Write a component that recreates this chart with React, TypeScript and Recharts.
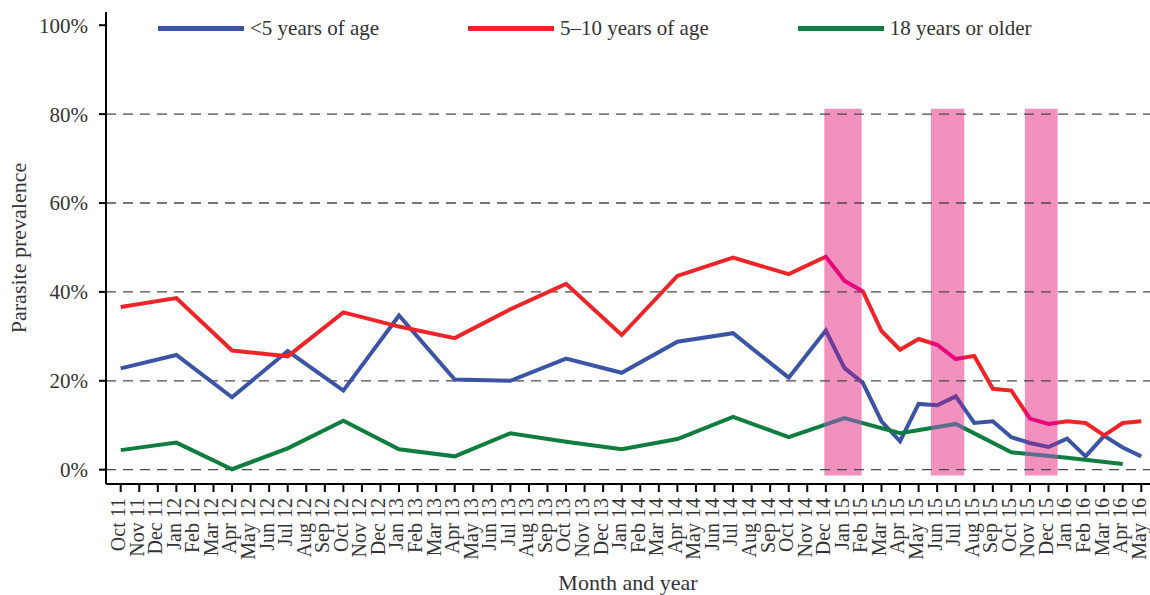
import React from "react"
import { Label, Line, LineChart, ReferenceArea, ReferenceLine, XAxis, YAxis } from "recharts"

// tick labels, one per month from Oct 2011 to May 2016
const months = [
  "Oct 11", "Nov 11", "Dec 11",
  "Jan 12", "Feb 12", "Mar 12", "Apr 12", "May 12", "Jun 12", "Jul 12", "Aug 12", "Sep 12", "Oct 12", "Nov 12", "Dec 12",
  "Jan 13", "Feb 13", "Mar 13", "Apr 13", "May 13", "Jun 13", "Jul 13", "Aug 13", "Sep 13", "Oct 13", "Nov 13", "Dec 13",
  "Jan 14", "Feb 14", "Mar 14", "Apr 14", "May 14", "Jun 14", "Jul 14", "Aug 14", "Sep 14", "Oct 14", "Nov 14", "Dec 14",
  "Jan 15", "Feb 15", "Mar 15", "Apr 15", "May 15", "Jun 15", "Jul 15", "Aug 15", "Sep 15", "Oct 15", "Nov 15", "Dec 15",
  "Jan 16", "Feb 16", "Mar 16", "Apr 16", "May 16",
]

// prevalence (%) by month, null where there was no survey
const under5 = [
  22.8, null, null, 25.8, null, null, 16.3, null, null, 26.7, null, null, 17.8, null, null,
  34.7, null, null, 20.3, null, null, 20.0, null, null, 25.0, null, null,
  21.8, null, null, 28.8, null, null, 30.7, null, null, 20.7, null, 31.3,
  22.9, 19.5, 10.9, 6.4, 14.8, 14.5, 16.5, 10.5, 10.9, 7.3, 6.0, 5.1,
  7.0, 3.0, 7.6, 5.0, 3.0,
]

const age5to10 = [
  36.6, null, null, 38.6, null, null, 26.8, null, null, 25.5, null, null, 35.4, null, null,
  32.2, null, null, 29.6, null, null, 36.1, null, null, 41.8, null, null,
  30.3, null, null, 43.6, null, null, 47.7, null, null, 44.0, null, 47.9,
  42.5, 40.1, 31.2, 27.0, 29.4, 28.1, 24.9, 25.6, 18.2, 17.8, 11.5, 10.3,
  10.9, 10.5, 7.7, 10.5, 10.9,
]

const adults = [
  4.4, null, null, 6.1, null, null, 0.1, null, null, 4.8, null, null, 11.0, null, null,
  4.6, null, null, 3.0, null, null, 8.2, null, null, 6.3, null, null,
  4.6, null, null, 6.9, null, null, 11.9, null, null, 7.3, null, null,
  11.6, null, null, 8.2, null, null, 10.3, null, null, 3.9, null, null,
  2.7, null, null, 1.3, null,
]

// shaded periods, in month index units
const bands = [
  [37.92, 39.93],
  [43.66, 45.46],
  [48.73, 50.49],
]

const yTicks = [0, 20, 40, 60, 80, 100]
const gridLines = [0, 20, 40, 60, 80]

const series = [
  { key: "under5", name: "<5 years of age", values: under5, color: "#3B54A5", bandColor: "#6A3E99" },
  { key: "age5to10", name: "5–10 years of age", values: age5to10, color: "#EE2428", bandColor: "#E6067E" },
  { key: "adults", name: "18 years or older", values: adults, color: "#0E7D3F", bandColor: "#5E6C8E" },
]

const data = months.map((month, i) => ({
  i,
  month,
  under5: under5[i],
  age5to10: age5to10[i],
  adults: adults[i],
}))

const FONT = "Liberation Serif, Times New Roman, serif"
const TEXT = "#333"

function MonthTick({ x, y, payload }: any) {
  return (
    <g transform={`translate(${x},${y})`}>
      <text
        x={-4}
        dy="0.22em"
        transform="rotate(-90)"
        textAnchor="end"
        fontFamily={FONT}
        fontSize={20}
        fill={TEXT}
      >
        {months[payload.value]}
      </text>
    </g>
  )
}

// gradient stops so the line changes colour inside the shaded bands
function gradientStops(values: (number | null)[], color: string, bandColor: string) {
  const idx = values.map((v, i) => (v == null ? -1 : i)).filter((i) => i >= 0)
  const first = idx[0]
  const last = idx[idx.length - 1]
  const off = (x: number) => Math.min(1, Math.max(0, (x - first) / (last - first)))
  const stops: { o: number; c: string }[] = [{ o: 0, c: color }]
  bands.forEach(([s, e]) => {
    stops.push({ o: off(s), c: color }, { o: off(s), c: bandColor }, { o: off(e), c: bandColor }, { o: off(e), c: color })
  })
  stops.push({ o: 1, c: color })
  return stops
}

export default function App() {
  return (
    <div style={{ position: "absolute", left: 0, top: 0, width: 1150, height: 595, background: "#fff" }}>
      <LineChart width={1150} height={595} data={data} margin={{ top: 12, right: 0, bottom: 0, left: 0 }}>
        <defs>
          {series.map((s) => (
            <linearGradient key={s.key} id={`grad-${s.key}`} x1="0" y1="0" x2="1" y2="0">
              {gradientStops(s.values, s.color, s.bandColor).map((st, k) => (
                <stop key={k} offset={st.o} stopColor={st.c} />
              ))}
            </linearGradient>
          ))}
        </defs>
        <XAxis
          type="number"
          dataKey="i"
          domain={[-0.792, 55.47]}
          ticks={months.map((_, i) => i)}
          interval={0}
          allowDataOverflow
          height={111}
          tick={<MonthTick />}
          tickSize={8}
          tickMargin={2}
          axisLine={{ stroke: "#000", strokeWidth: 2 }}
          tickLine={{ stroke: "#000", strokeWidth: 2 }}
        >
          <Label
            content={({ viewBox }: any) => (
              <text
                x={viewBox.x + viewBox.width / 2}
                y={viewBox.y + viewBox.height - 5}
                textAnchor="middle"
                fontFamily={FONT}
                fontSize={22}
                fill={TEXT}
              >
                Month and year
              </text>
            )}
          />
        </XAxis>
        <YAxis
          type="number"
          domain={[-3.22, 102.97]}
          ticks={yTicks}
          allowDataOverflow
          width={106}
          tickFormatter={(v) => `${v}%`}
          tick={{ fontFamily: FONT, fontSize: 21, fill: TEXT }}
          tickSize={7}
          tickMargin={11}
          axisLine={{ stroke: "#000", strokeWidth: 2 }}
          tickLine={{ stroke: "#000", strokeWidth: 2 }}
        >
          <Label
            content={({ viewBox }: any) => {
              const cx = 18
              const cy = viewBox.y + viewBox.height / 2
              return (
                <text
                  x={cx}
                  y={cy}
                  transform={`rotate(-90, ${cx}, ${cy})`}
                  textAnchor="middle"
                  dominantBaseline="central"
                  fontFamily={FONT}
                  fontSize={22}
                  fill={TEXT}
                >
                  Parasite prevalence
                </text>
              )
            }}
          />
        </YAxis>
        {bands.map(([s, e], k) => (
          <ReferenceArea key={k} x1={s} x2={e} y1={-1.3} y2={81.2} fill="#F391BE" fillOpacity={1} stroke="none" />
        ))}
        {gridLines.map((v) => (
          <ReferenceLine key={v} y={v} stroke="#4a4a4a" strokeWidth={1.3} strokeDasharray="10 7" />
        ))}
        {series.map((s) => (
          <Line
            key={s.key}
            type="linear"
            dataKey={s.key}
            name={s.name}
            stroke={`url(#grad-${s.key})`}
            strokeWidth={4}
            dot={false}
            activeDot={false}
            connectNulls
            isAnimationActive={false}
          />
        ))}
      </LineChart>
      <div
        style={{
          position: "absolute",
          left: 158,
          top: 14,
          display: "flex",
          gap: 89,
          fontFamily: FONT,
          fontSize: 21,
          color: TEXT,
          lineHeight: "28px",
        }}
      >
        {series.map((s) => (
          <div key={s.key} style={{ display: "flex", alignItems: "center" }}>
            <span style={{ display: "inline-block", width: 86, height: 5, background: s.color, marginRight: 6 }} />
            <span>{s.name}</span>
          </div>
        ))}
      </div>
    </div>
  )
}
